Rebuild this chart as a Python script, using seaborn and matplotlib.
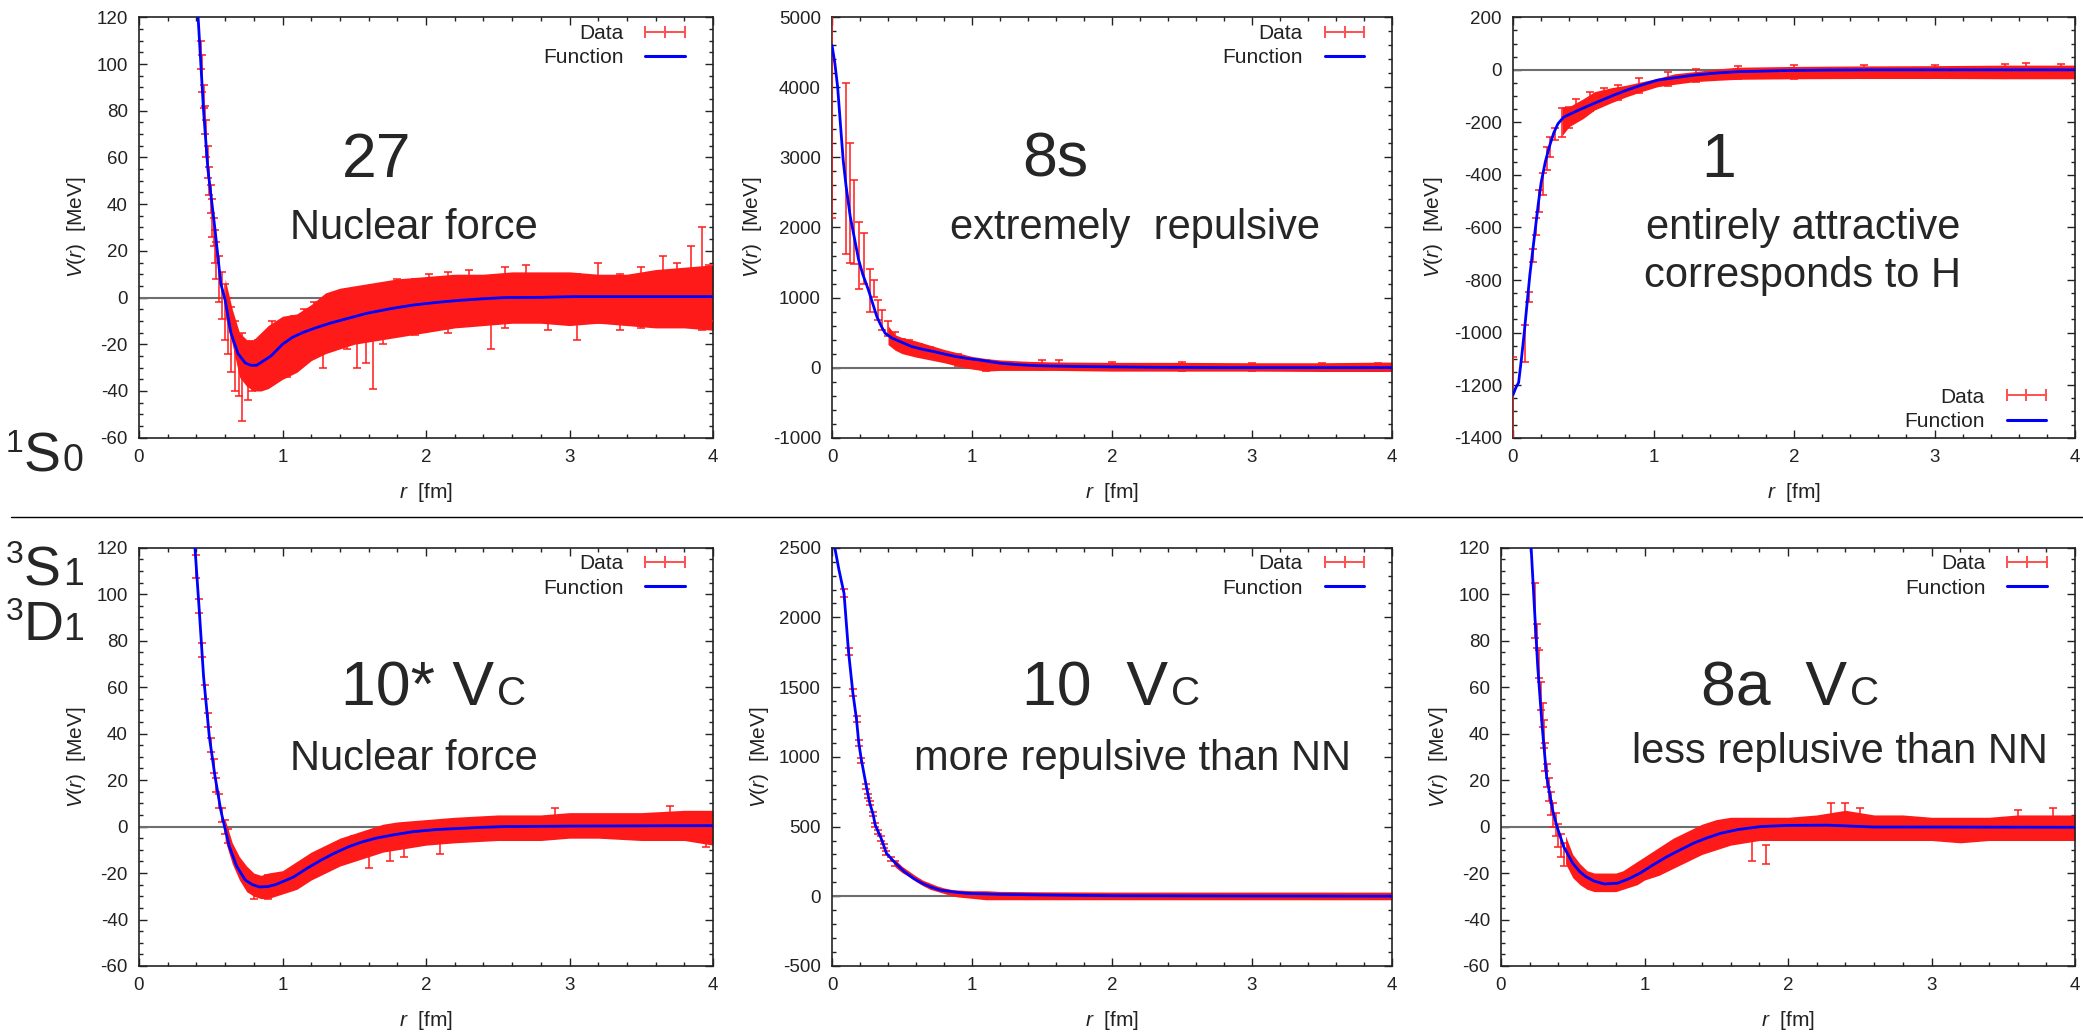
import numpy as np
import matplotlib
matplotlib.use('Agg')
import matplotlib.pyplot as plt
from matplotlib.lines import Line2D
from matplotlib.ticker import MultipleLocator
import seaborn as sns

W, H = 2083, 1035

# ---------------- data ----------------
# Panel 1 : 1S0  "27"
p1_fit_r = [0.41, 0.45, 0.48, 0.53, 0.57, 0.60, 0.64, 0.69, 0.74, 0.78, 0.82, 0.87, 0.92, 1.00, 1.07, 1.14,
            1.23, 1.33, 1.45, 1.59, 1.75, 1.91, 2.07, 2.23, 2.40, 2.55, 2.80, 3.03, 3.50, 4.00]
p1_fit_v = [122, 80, 55, 29, 6, -1, -15, -24, -28, -29, -29, -27, -25, -20, -17, -15,
            -13, -11, -9, -6.7, -4.8, -3.2, -2.1, -1.2, -0.5, 0, 0.1, 0.4, 0.4, 0.4]
p1_band_r = [0.60, 0.65, 0.70, 0.75, 0.80, 0.85, 0.90, 0.95, 1.00, 1.10, 1.20, 1.30, 1.40, 1.50, 1.60, 1.80,
             2.00, 2.20, 2.40, 2.60, 2.80, 3.00, 3.20, 3.40, 3.60, 3.80, 4.00]
p1_band_lo = [-8, -20, -34, -38, -40, -40, -39, -37, -35, -32, -27, -24, -22, -20, -19, -17,
              -15, -13, -12, -11, -11, -12, -11, -12, -13, -13, -14]
p1_band_hi = [8, -5, -15, -18, -18, -15, -12, -10, -8, -7, -3, 2, 4, 5, 6, 8,
              9, 10, 10, 11, 11, 11, 10, 10, 12, 13, 14]
p1_pts_r = [0.43, 0.44, 0.45, 0.46, 0.47, 0.48, 0.49, 0.50, 0.51, 0.52, 0.53, 0.54, 0.56, 0.58, 0.60, 0.62,
            0.64, 0.67, 0.70, 0.72, 0.76, 0.79, 0.83, 0.88, 0.93, 0.98, 1.03, 1.08, 1.15, 1.22, 1.28, 1.35,
            1.45, 1.52, 1.58, 1.63, 1.70, 1.80, 1.92, 2.02, 2.15, 2.30, 2.45, 2.55, 2.70, 2.85, 3.05, 3.20,
            3.35, 3.50, 3.65, 3.75, 3.85, 3.92, 3.97]
p1_pts_v = [104, 96, 86, 76, 68, 58, 50, 42, 34, 28, 22, 16, 8, 1, -6, -12,
            -18, -25, -30, -34, -32, -30, -28, -26, -22, -22, -22, -16, -14, -12, -18, -10,
            -12, -16, -18, -26, -8, -4, -4, -2, -2, 0, -10, 0, 2, -2, -4, 2,
            -2, 0, 4, 2, 6, 8, 2]
p1_pts_e = [6, 8, 5, 6, 8, 7, 6, 6, 8, 6, 7, 8, 10, 10, 12, 12,
            14, 15, 12, 19, 12, 10, 10, 9, 12, 10, 12, 8, 9, 10, 12, 11,
            10, 14, 10, 13, 12, 12, 12, 12, 13, 12, 12, 13, 12, 12, 14, 13,
            12, 13, 14, 13, 16, 22, 12]

# Panel 2 : 1S0  "8s"
p2_fit_r = [0.00, 0.02, 0.04, 0.06, 0.08, 0.10, 0.13, 0.16, 0.19, 0.22, 0.26, 0.29, 0.32, 0.35, 0.38, 0.43,
            0.50, 0.57, 0.65, 0.73, 0.81, 0.89, 0.97, 1.05, 1.13, 1.21, 1.33, 1.46, 1.65, 1.84, 2.30, 2.80,
            3.40, 4.00]
p2_fit_v = [4600, 4350, 4010, 3480, 2960, 2600, 2160, 1850, 1540, 1330, 1110, 920, 730, 600, 490, 420,
            360, 300, 260, 228, 190, 157, 130, 110, 85, 61, 42, 28, 20, 14, 5, 0,
            0, 0]
p2_band_r = [0.40, 0.45, 0.50, 0.60, 0.70, 0.80, 0.90, 1.00, 1.10, 1.20, 1.40, 1.60, 2.00, 2.50, 3.00, 3.50, 4.00]
p2_band_lo = [330, 250, 200, 150, 110, 70, 20, -20, -50, -40, -40, -40, -50, -50, -50, -55, -55]
p2_band_hi = [600, 470, 430, 380, 320, 260, 210, 160, 130, 110, 90, 80, 75, 75, 70, 70, 80]
p2_pts_r = [0.00, 0.10, 0.13, 0.16, 0.19, 0.23, 0.27, 0.30, 0.33, 0.36, 0.40, 0.45, 0.50, 0.55, 0.62, 0.70,
            0.80, 0.90, 1.00, 1.10, 1.50, 1.62, 2.00, 2.50, 3.00, 3.50, 3.90]
p2_pts_v = [3940, 2840, 2350, 2080, 1600, 1560, 1100, 1130, 820, 680, 560, 420, 330, 300, 260, 220,
            160, 110, 60, 30, 40, 50, 20, 15, 10, 10, 10]
p2_pts_e = [1800, 1220, 860, 600, 480, 360, 310, 120, 140, 140, 110, 90, 80, 90, 80, 80,
            70, 80, 70, 80, 70, 60, 60, 60, 60, 60, 60]

# Panel 3 : 1S0  "1"
p3_fit_r = [0.00, 0.02, 0.04, 0.06, 0.08, 0.10, 0.12, 0.14, 0.16, 0.18, 0.20, 0.23, 0.26, 0.29, 0.32, 0.36,
            0.40, 0.48, 0.58, 0.70, 0.81, 0.92, 1.03, 1.15, 1.29, 1.45, 1.60, 1.92, 2.20, 2.56, 3.00, 4.00]
p3_fit_v = [-1237, -1210, -1190, -1100, -1000, -890, -780, -690, -600, -510, -430, -350, -290, -240, -205, -180,
            -170, -150, -127, -100, -77, -57, -39, -30, -20, -12, -7, -3, -1, 0, 0, 0]
p3_band_r = [0.35, 0.40, 0.50, 0.58, 0.70, 0.81, 0.92, 1.03, 1.15, 1.29, 1.45, 1.60, 2.00, 2.50, 3.00, 3.50, 4.00]
p3_band_lo = [-250, -216, -185, -153, -125, -102, -82, -64, -55, -45, -40, -36, -34, -33, -33, -34, -34]
p3_band_hi = [-140, -140, -110, -83, -68, -58, -45, -32, -15, -7, 3, 10, 13, 15, 16, 18, 18]
p3_pts_r = [0.000, 0.085, 0.115, 0.140, 0.165, 0.185, 0.210, 0.240, 0.260, 0.300, 0.350, 0.400, 0.450, 0.550,
            0.650, 0.750, 0.900, 1.100, 1.300, 1.600, 2.000, 2.500, 3.000, 3.500, 3.650, 3.900]
p3_pts_v = [-1284, -1040, -865, -705, -597, -500, -435, -337, -292, -245, -200, -180, -150, -120,
            -100, -85, -60, -35, -20, -10, -8, -6, -5, -4, -2, -3]
p3_pts_e = [190, 70, 20, 25, 32, 42, 41, 45, 38, 22, 54, 40, 40, 35,
            30, 28, 28, 25, 25, 25, 25, 25, 25, 25, 28, 25]

# Panel 4 : 3S1-3D1  "10* Vc"
p4_fit_r = [0.39, 0.42, 0.45, 0.49, 0.53, 0.57, 0.596, 0.63, 0.68, 0.74, 0.79, 0.84, 0.90, 0.95, 1.01, 1.08,
            1.17, 1.27, 1.36, 1.46, 1.55, 1.65, 1.78, 1.91, 2.07, 2.23, 2.40, 2.55, 3.00, 3.50, 4.00]
p4_fit_v = [120, 93, 64.5, 38.7, 21.5, 7, 0, -8.7, -17, -23, -25, -26, -25.8, -25, -23.5, -21.6,
            -18, -14.4, -11.5, -8.7, -6.7, -5, -3.5, -2.2, -1.3, -0.8, -0.3, 0, 0.2, 0.3, 0.4]
p4_band_r = [0.60, 0.65, 0.70, 0.75, 0.80, 0.85, 0.90, 1.00, 1.10, 1.20, 1.30, 1.40, 1.50, 1.60, 1.70, 1.80,
             2.00, 2.20, 2.50, 2.80, 3.00, 3.20, 3.50, 3.80, 4.00]
p4_band_lo = [-6, -16, -23, -28, -30, -31, -31, -29, -27, -23, -20, -17, -15, -13, -11, -10,
              -8, -7, -6, -6, -5, -5, -6, -6, -8]
p4_band_hi = [3, -7, -13, -17, -20, -21, -20, -19, -15, -11, -8, -5, -3, -1, 1, 2,
              3, 4, 5, 5, 6, 6, 6, 7, 7]
p4_pts_r = [0.40, 0.42, 0.44, 0.46, 0.48, 0.50, 0.52, 0.54, 0.56, 0.58, 0.60, 0.62, 0.80, 0.90, 1.00, 1.50,
            1.60, 1.75, 1.85, 2.10, 2.90, 3.70, 3.95]
p4_pts_v = [112, 95, 76, 58, 46, 35, 26, 18, 11, 5, 0, -4, -27, -26, -24, -9,
            -15, -12, -10, -9, 3, 3, -4]
p4_pts_e = [5, 3, 3, 3, 3, 3, 3, 3, 3, 3, 3, 3, 4, 5, 4, 5,
            3, 3, 3, 3, 5, 6, 5]

# Panel 5 : 3S1-3D1  "10  Vc"
p5_fit_r = [0.020, 0.050, 0.086, 0.118, 0.149, 0.175, 0.191, 0.210, 0.245, 0.270, 0.293, 0.309, 0.351, 0.389,
            0.453, 0.516, 0.580, 0.644, 0.710, 0.771, 0.860, 0.963, 1.200, 1.470, 2.000, 3.000, 4.000]
p5_fit_v = [2500, 2340, 2172, 1754, 1460, 1269, 1102, 978, 791, 667, 590, 511, 416, 308,
            237, 177, 130, 93, 65, 45, 32, 21, 14, 10, 4, 2, 1]
p5_band_r = [0.45, 0.50, 0.55, 0.60, 0.65, 0.70, 0.75, 0.80, 0.85, 0.90, 1.00, 1.10, 1.20, 1.50, 2.00, 2.50,
             3.00, 3.50, 4.00]
p5_band_lo = [210, 170, 140, 105, 75, 50, 35, 20, 5, -5, -15, -25, -25, -25, -25, -25, -25, -25, -25]
p5_band_hi = [265, 215, 180, 145, 115, 95, 75, 60, 50, 45, 40, 40, 35, 32, 30, 30, 30, 30, 30]
p5_pts_r = [0.086, 0.118, 0.149, 0.175, 0.191, 0.210, 0.245, 0.260, 0.270, 0.293, 0.309, 0.330, 0.351, 0.370,
            0.389, 0.420, 0.450]
p5_pts_v = [2175, 1755, 1460, 1270, 1100, 975, 790, 720, 670, 590, 510, 460, 415, 360,
            310, 270, 235]
p5_pts_e = [30, 25, 25, 20, 20, 18, 18, 15, 15, 15, 15, 15, 15, 15,
            15, 15, 15]

# Panel 6 : 3S1-3D1  "8a  Vc"
p6_fit_r = [0.21, 0.234, 0.256, 0.287, 0.318, 0.36, 0.39, 0.437, 0.50, 0.55, 0.593, 0.65, 0.72, 0.81, 0.89,
            0.97, 1.06, 1.155, 1.25, 1.34, 1.43, 1.53, 1.65, 1.81, 2.00, 2.28, 2.60, 3.00, 4.00]
p6_fit_v = [120, 93, 68.8, 43, 21.5, 7, 0, -8.7, -15.8, -19.5, -21.6, -23.5, -24.7, -24.4, -22.5,
            -20, -16.5, -13, -10, -7.2, -5, -2.9, -1.3, 0, 0.5, 0.6, -0.2, -0.2, -0.3]
p6_band_r = [0.45, 0.50, 0.55, 0.60, 0.65, 0.70, 0.75, 0.80, 0.85, 0.90, 0.95, 1.00, 1.10, 1.20, 1.30, 1.40,
             1.50, 1.60, 1.70, 1.80, 1.90, 2.00, 2.20, 2.40, 2.60, 2.80, 3.00, 3.20, 3.40, 3.60, 3.80, 4.00]
p6_band_lo = [-16, -22, -25, -27, -28, -28, -28, -28, -27, -26, -25, -23, -21, -18, -15, -12,
              -10, -8, -7, -6, -6, -6, -6, -6, -6, -6, -6, -7, -6, -6, -6, -6]
p6_band_hi = [-4, -12, -16, -19, -20, -20, -20, -20, -19, -17, -15, -13, -9, -5, -2, 1,
              3, 4, 4, 4, 4, 4, 5, 7, 5, 5, 4, 4, 4, 5, 5, 5]
p6_pts_r = [0.235, 0.25, 0.265, 0.28, 0.29, 0.30, 0.31, 0.32, 0.335, 0.35, 0.365, 0.38, 0.40, 0.42, 0.44,
            1.75, 1.85, 2.30, 2.40, 2.50, 3.60, 3.85]
p6_pts_v = [93, 82, 70, 56, 48, 40, 30, 22, 16, 10, 5, 1, -4, -8, -12,
            -10, -12, 5, 5, 3, 3, 3]
p6_pts_e = [12, 5, 6, 6, 5, 6, 6, 5, 5, 5, 5, 5, 5, 5, 5,
            5, 4, 5, 5, 5, 4, 5]

# axis settings
y_limits = [(-60, 120), (-1000, 5000), (-1400, 200), (-60, 120), (-500, 2500), (-60, 120)]
y_major = [20, 1000, 200, 20, 500, 20]
y_minor = [5, 200, 50, 5, 100, 5]
big_labels = ['27', '8s', '1', '10* V', '10  V', '8a  V']
sub_labels = [['Nuclear force'], ['extremely  repulsive'], ['entirely attractive', 'corresponds to H'],
              ['Nuclear force'], ['more repulsive than NN'], ['less replusive than NN']]
legend_labels = ['Data', 'Function']

# ---------------- style ----------------
sns.set_style('ticks')
plt.rcParams['font.family'] = ['Liberation Sans', 'DejaVu Sans']
plt.rcParams['mathtext.fontset'] = 'custom'
plt.rcParams['mathtext.rm'] = 'Liberation Sans'
plt.rcParams['mathtext.it'] = 'Liberation Sans:italic'
plt.rcParams['axes.unicode_minus'] = False

fig = plt.figure(figsize=(W / 100, H / 100), dpi=100)


def rect(x1, y1, x2, y2):
    return [x1 / W, 1 - y2 / H, (x2 - x1) / W, (y2 - y1) / H]


def fx(x):
    return x / W


def fy(y):
    return 1 - y / H


rects = [rect(139, 17.3, 713, 437.7), rect(832, 17.3, 1392, 437.7), rect(1513, 17.3, 2075, 437.7),
         rect(139, 547.7, 713, 966), rect(832, 547.7, 1392, 966), rect(1501, 547.7, 2075, 966)]

panels = [
    (p1_fit_r, p1_fit_v, p1_band_r, p1_band_lo, p1_band_hi, p1_pts_r, p1_pts_v, p1_pts_e),
    (p2_fit_r, p2_fit_v, p2_band_r, p2_band_lo, p2_band_hi, p2_pts_r, p2_pts_v, p2_pts_e),
    (p3_fit_r, p3_fit_v, p3_band_r, p3_band_lo, p3_band_hi, p3_pts_r, p3_pts_v, p3_pts_e),
    (p4_fit_r, p4_fit_v, p4_band_r, p4_band_lo, p4_band_hi, p4_pts_r, p4_pts_v, p4_pts_e),
    (p5_fit_r, p5_fit_v, p5_band_r, p5_band_lo, p5_band_hi, p5_pts_r, p5_pts_v, p5_pts_e),
    (p6_fit_r, p6_fit_v, p6_band_r, p6_band_lo, p6_band_hi, p6_pts_r, p6_pts_v, p6_pts_e),
]

DARK = '#222222'
RED = '#ff1a1a'

for i, (fr, fv, br, blo, bhi, pr, pv, pe) in enumerate(panels):
    ax = fig.add_axes(rects[i])
    ax.axhline(0, color='#6e6e6e', lw=1.5, zorder=1)
    ax.fill_between(br, blo, bhi, color=RED, lw=0, zorder=2)
    ax.errorbar(pr, pv, yerr=pe, fmt='none', ecolor=RED, elinewidth=1.1, capsize=3, capthick=1.1, zorder=3)
    sns.lineplot(x=fr, y=fv, ax=ax, color='#0000ff', lw=2.0, sort=False, estimator=None, zorder=4)
    ax.set_xlim(0, 4)
    ax.set_ylim(*y_limits[i])
    ax.xaxis.set_major_locator(MultipleLocator(1))
    ax.xaxis.set_minor_locator(MultipleLocator(0.2))
    ax.yaxis.set_major_locator(MultipleLocator(y_major[i]))
    ax.yaxis.set_minor_locator(MultipleLocator(y_minor[i]))
    ax.tick_params(which='both', direction='in', top=True, right=True, color=DARK, width=1.0,
                   labelcolor=DARK, labelsize=13.5)
    ax.tick_params(which='major', length=5.5)
    ax.tick_params(which='minor', length=3)
    ax.tick_params(axis='x', pad=8)
    ax.tick_params(axis='y', pad=8)
    for s in ax.spines.values():
        s.set_color(DARK)
        s.set_linewidth(1.2)
    ax.set_xlabel(r'$r$  [fm]', fontsize=15, color=DARK, labelpad=11)
    ax.set_ylabel(r'$V(r)$  [MeV]', fontsize=15, color=DARK, labelpad=6)

    handles = [Line2D([0], [0], color='#ff5050', lw=1.4, marker='|', ms=8, mew=1.4),
               Line2D([0], [0], color='#0000ff', lw=2.2)]
    if i == 2:
        loc, anchor = 'lower right', (0.960, 0.016)
    else:
        loc, anchor = 'upper right', (0.9617, 0.984)
    leg = ax.legend(handles, legend_labels, loc=loc, bbox_to_anchor=anchor, frameon=False, markerfirst=False,
                    numpoints=3, handlelength=2.5, handletextpad=0.75, labelspacing=0.25, borderpad=0,
                    borderaxespad=0, fontsize=15)
    for t in leg.get_texts():
        t.set_color(DARK)

# ---------------- annotations ----------------
BIG = 45
SUB = 30
# top row
fig.text(fx(377), fy(176.7), big_labels[0], fontsize=BIG, ha='center', va='baseline')
fig.text(fx(414), fy(239.3), sub_labels[0][0], fontsize=SUB, ha='center', va='baseline')
fig.text(fx(1055.6), fy(176.7), big_labels[1], fontsize=BIG, ha='center', va='baseline')
fig.text(fx(1135), fy(239.3), sub_labels[1][0], fontsize=SUB, ha='center', va='baseline')
fig.text(fx(1719), fy(176.7), big_labels[2], fontsize=BIG, ha='center', va='baseline')
fig.text(fx(1803), fy(239.3), sub_labels[2][0], fontsize=SUB, ha='center', va='baseline')
fig.text(fx(1803), fy(286.7), sub_labels[2][1], fontsize=SUB, ha='center', va='baseline')

# bottom row (V with small-capital C)
for x0, lab in [(341, big_labels[3]), (1022, big_labels[4]), (1701, big_labels[5])]:
    t = fig.text(fx(x0), fy(705), lab, fontsize=BIG, ha='left', va='baseline')
    fig.canvas.draw()
    bb = t.get_window_extent()
    fig.text(bb.x1 / W + 0.0015, fy(705), 'C', fontsize=29, ha='left', va='baseline')
fig.text(fx(414), fy(770), sub_labels[3][0], fontsize=SUB, ha='center', va='baseline')
fig.text(fx(1132), fy(770), sub_labels[4][0], fontsize=SUB, ha='center', va='baseline')
fig.text(fx(1840), fy(763), sub_labels[5][0], fontsize=SUB, ha='center', va='baseline')

# partial-wave labels
fig.text(fx(6), fy(452), '1', fontsize=23, ha='left', va='baseline')
fig.text(fx(24), fy(471), 'S', fontsize=40, ha='left', va='baseline')
fig.text(fx(63), fy(471), '0', fontsize=27, ha='left', va='baseline')

fig.text(fx(6), fy(563), '3', fontsize=23, ha='left', va='baseline')
fig.text(fx(24), fy(585), 'S', fontsize=40, ha='left', va='baseline')
fig.text(fx(63), fy(585), '1', fontsize=27, ha='left', va='baseline')
fig.text(fx(6), fy(620), '3', fontsize=23, ha='left', va='baseline')
fig.text(fx(24), fy(640), 'D', fontsize=40, ha='left', va='baseline')
fig.text(fx(63), fy(640), '1', fontsize=27, ha='left', va='baseline')

# separator
fig.add_artist(Line2D([fx(11), 1.0], [fy(517), fy(517)], color='black', lw=1.0))

fig.savefig('out.png', dpi=100)
